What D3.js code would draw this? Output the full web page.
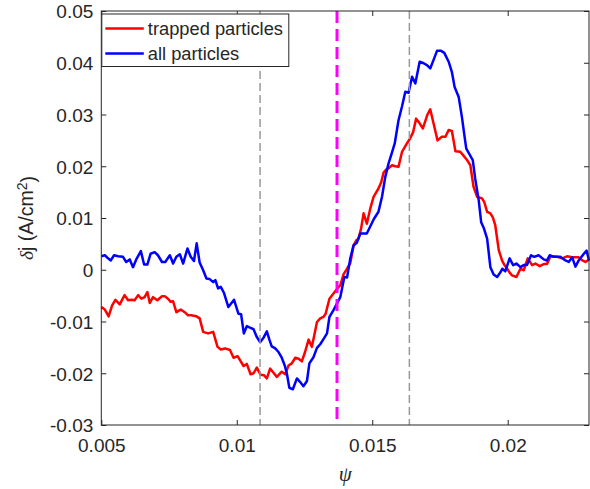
<!DOCTYPE html>
<html>
<head>
<meta charset="utf-8">
<script src="https://cdn.jsdelivr.net/npm/d3@7"></script>
<style>
  body { margin: 0; background: #fff; }
  text { font-family: "Liberation Sans", Arial, sans-serif; fill: #262626; }
</style>
</head>
<body>
<div id="chart"></div>
<script>
// data
var psiTrapped = [0.00500,0.00513,0.00527,0.00540,0.00552,0.00568,0.00586,0.00599,0.00611,0.00623,
  0.00636,0.00648,0.00660,0.00670,0.00679,0.00691,0.00707,0.00724,0.00734,0.00746,
  0.00756,0.00765,0.00777,0.00793,0.00808,0.00820,0.00832,0.00851,0.00863,0.00876,
  0.00894,0.00913,0.00929,0.00941,0.00957,0.00975,0.00988,0.01003,0.01025,0.01037,
  0.01051,0.01062,0.01074,0.01088,0.01101,0.01111,0.01123,0.01134,0.01148,0.01166,
  0.01179,0.01191,0.01203,0.01216,0.01228,0.01240,0.01252,0.01265,0.01277,0.01286,
  0.01296,0.01308,0.01320,0.01328,0.01342,0.01357,0.01370,0.01382,0.01394,0.01407,
  0.01419,0.01431,0.01441,0.01449,0.01459,0.01468,0.01480,0.01493,0.01505,0.01515,
  0.01523,0.01533,0.01542,0.01552,0.01560,0.01573,0.01585,0.01597,0.01610,0.01628,
  0.01640,0.01651,0.01662,0.01675,0.01687,0.01703,0.01714,0.01727,0.01741,0.01757,
  0.01770,0.01782,0.01794,0.01807,0.01825,0.01836,0.01850,0.01862,0.01874,0.01887,
  0.01905,0.01914,0.01924,0.01936,0.01945,0.01954,0.01967,0.01979,0.01988,0.01998,
  0.02008,0.02016,0.02032,0.02047,0.02059,0.02074,0.02090,0.02102,0.02118,0.02133,
  0.02145,0.02158,0.02182,0.02201,0.02219,0.02238,0.02262,0.02275,0.02287,0.02300];
var jTrapped = [-0.0072,-0.0077,-0.0090,-0.0069,-0.0058,-0.0067,-0.0049,-0.0059,-0.0058,-0.0059,
  -0.0049,-0.0056,-0.0053,-0.0043,-0.0064,-0.0053,-0.0059,-0.0051,-0.0051,-0.0056,
  -0.0062,-0.0061,-0.0082,-0.0077,-0.0082,-0.0088,-0.0088,-0.0090,-0.0094,-0.0120,
  -0.0123,-0.0120,-0.0149,-0.0154,-0.0152,-0.0155,-0.0170,-0.0167,-0.0186,-0.0182,
  -0.0202,-0.0200,-0.0189,-0.0203,-0.0204,-0.0210,-0.0191,-0.0198,-0.0207,-0.0197,
  -0.0202,-0.0185,-0.0181,-0.0170,-0.0172,-0.0177,-0.0159,-0.0135,-0.0149,-0.0127,
  -0.0101,-0.0094,-0.0091,-0.0085,-0.0056,-0.0046,-0.0037,-0.0030,-0.0009,0.0002,
  0.0013,0.0047,0.0057,0.0060,0.0080,0.0109,0.0089,0.0119,0.0141,0.0150,
  0.0157,0.0169,0.0188,0.0194,0.0196,0.0202,0.0200,0.0199,0.0228,0.0244,
  0.0254,0.0266,0.0292,0.0283,0.0273,0.0299,0.0310,0.0281,0.0250,0.0257,
  0.0257,0.0270,0.0268,0.0229,0.0228,0.0221,0.0212,0.0202,0.0160,0.0141,
  0.0138,0.0130,0.0112,0.0109,0.0101,0.0086,0.0038,0.0018,0.0009,0.0002,
  -0.0006,-0.0011,-0.0014,0.0002,-0.0001,0.0022,0.0009,0.0012,0.0007,0.0011,
  0.0011,0.0026,0.0025,0.0022,0.0026,0.0024,0.0024,0.0018,0.0015,0.0020];

var psiAll = [0.00500,0.00513,0.00525,0.00535,0.00547,0.00562,0.00580,0.00592,0.00605,0.00617,
  0.00629,0.00646,0.00658,0.00670,0.00682,0.00697,0.00709,0.00724,0.00736,0.00753,
  0.00765,0.00777,0.00790,0.00802,0.00818,0.00830,0.00842,0.00852,0.00863,0.00876,
  0.00888,0.00900,0.00913,0.00921,0.00931,0.00941,0.00953,0.00969,0.00990,0.01006,
  0.01016,0.01026,0.01037,0.01049,0.01062,0.01073,0.01086,0.01098,0.01111,0.01121,
  0.01129,0.01142,0.01154,0.01166,0.01177,0.01185,0.01194,0.01207,0.01222,0.01234,
  0.01246,0.01259,0.01268,0.01283,0.01296,0.01308,0.01320,0.01333,0.01342,0.01357,
  0.01370,0.01382,0.01397,0.01407,0.01419,0.01431,0.01443,0.01456,0.01468,0.01480,
  0.01493,0.01506,0.01523,0.01536,0.01548,0.01560,0.01573,0.01583,0.01597,0.01610,
  0.01622,0.01634,0.01647,0.01659,0.01675,0.01690,0.01703,0.01714,0.01726,0.01739,
  0.01754,0.01766,0.01782,0.01794,0.01804,0.01819,0.01831,0.01840,0.01847,0.01858,
  0.01871,0.01880,0.01893,0.01902,0.01912,0.01924,0.01936,0.01948,0.01961,0.01973,
  0.01980,0.01991,0.02007,0.02020,0.02032,0.02047,0.02059,0.02071,0.02086,0.02098,
  0.02114,0.02133,0.02145,0.02155,0.02170,0.02194,0.02213,0.02225,0.02238,0.02250,
  0.02262,0.02281,0.02291,0.02300];
var jAll = [0.0026,0.0028,0.0022,0.0018,0.0028,0.0026,0.0025,0.0015,0.0020,0.0005,
  0.0020,0.0036,0.0010,0.0010,0.0031,0.0034,0.0028,0.0015,0.0015,0.0028,
  0.0012,0.0025,0.0030,0.0012,0.0041,0.0025,0.0017,0.0051,0.0014,-0.0001,
  -0.0017,-0.0018,-0.0024,-0.0020,-0.0036,-0.0033,-0.0045,-0.0072,-0.0058,-0.0085,
  -0.0086,-0.0123,-0.0109,-0.0112,-0.0115,-0.0129,-0.0140,-0.0132,-0.0119,-0.0136,
  -0.0148,-0.0152,-0.0159,-0.0170,-0.0185,-0.0201,-0.0228,-0.0231,-0.0210,-0.0217,
  -0.0225,-0.0215,-0.0181,-0.0169,-0.0151,-0.0144,-0.0134,-0.0123,-0.0091,-0.0078,
  -0.0065,-0.0053,-0.0014,-0.0015,0.0022,0.0047,0.0052,0.0070,0.0070,0.0070,
  0.0084,0.0098,0.0112,0.0141,0.0179,0.0205,0.0227,0.0244,0.0289,0.0316,
  0.0344,0.0342,0.0373,0.0360,0.0402,0.0399,0.0395,0.0389,0.0405,0.0423,
  0.0423,0.0419,0.0402,0.0382,0.0353,0.0334,0.0295,0.0260,0.0234,0.0224,
  0.0212,0.0176,0.0134,0.0092,0.0080,0.0060,0.0005,-0.0009,-0.0014,-0.0005,
  0.0002,-0.0003,0.0022,0.0009,0.0012,0.0005,0.0009,0.0009,0.0028,0.0025,
  0.0028,0.0020,0.0018,0.0028,0.0025,0.0025,0.0018,0.0015,0.0024,0.0006,
  0.0018,0.0031,0.0037,0.0018];

var grayMarks = [0.01086, 0.01637];
var magentaMark = 0.0137;

var xTicks = [0.005, 0.01, 0.015, 0.02];
var xTickLabels = ["0.005", "0.01", "0.015", "0.02"];
var yTicks = [-0.03, -0.02, -0.01, 0, 0.01, 0.02, 0.03, 0.04, 0.05];
var yTickLabels = ["-0.03", "-0.02", "-0.01", "0", "0.01", "0.02", "0.03", "0.04", "0.05"];

var seriesNames = ["trapped particles", "all particles"];
var seriesColors = ["#ff0000", "#0000ff"];

// layout
var W = 590, H = 489;
var margin = {top: 11, right: 1, bottom: 64, left: 101.3};

var svg = d3.select("#chart").append("svg")
  .attr("width", W)
  .attr("height", H);

var x = d3.scaleLinear().domain([0.005, 0.023]).range([margin.left, W - margin.right]);
var y = d3.scaleLinear().domain([-0.03, 0.05]).range([H - margin.bottom, margin.top]);

var fs = 19;

// axes, matlab style ticks pointing in
var xb = svg.append("g")
  .attr("transform", "translate(0," + y(-0.03) + ")")
  .call(d3.axisBottom(x).tickValues(xTicks)
    .tickFormat(function(d, i) { return xTickLabels[i]; })
    .tickSizeInner(-5).tickSizeOuter(0).tickPadding(14));
var xt = svg.append("g")
  .attr("transform", "translate(0," + y(0.05) + ")")
  .call(d3.axisTop(x).tickValues(xTicks).tickFormat("")
    .tickSizeInner(-5).tickSizeOuter(0));
var yl = svg.append("g")
  .attr("transform", "translate(" + x(0.005) + ",0)")
  .call(d3.axisLeft(y).tickValues(yTicks)
    .tickFormat(function(d, i) { return yTickLabels[i]; })
    .tickSizeInner(-5).tickSizeOuter(0).tickPadding(8));
var yr = svg.append("g")
  .attr("transform", "translate(" + x(0.023) + ",0)")
  .call(d3.axisRight(y).tickValues(yTicks).tickFormat("")
    .tickSizeInner(-5).tickSizeOuter(0));

[xb, xt, yl, yr].forEach(function(g) {
  g.select(".domain").remove();
  g.selectAll(".tick line").attr("stroke", "#262626");
  g.selectAll(".tick text")
    .attr("fill", "#262626")
    .style("font-size", fs + "px")
    .style("font-family", '"Liberation Sans", Arial, sans-serif');
});
yl.selectAll(".tick text").attr("dy", "0.36em");

// curves
var line = d3.line()
  .x(function(d) { return x(d[0]); })
  .y(function(d) { return y(d[1]); });

var trapped = d3.zip(psiTrapped, jTrapped);
var all = d3.zip(psiAll, jAll);

svg.append("path")
  .datum(trapped)
  .attr("d", line)
  .attr("fill", "none")
  .attr("stroke", seriesColors[0])
  .attr("stroke-width", 2.5)
  .attr("stroke-linejoin", "round");

svg.append("path")
  .datum(all)
  .attr("d", line)
  .attr("fill", "none")
  .attr("stroke", seriesColors[1])
  .attr("stroke-width", 2.5)
  .attr("stroke-linejoin", "round");

// vertical marker lines
svg.selectAll(".gray-mark")
  .data(grayMarks)
  .enter().append("line")
  .attr("class", "gray-mark")
  .attr("x1", function(d) { return x(d); })
  .attr("x2", function(d) { return x(d); })
  .attr("y1", y(0.05))
  .attr("y2", y(-0.03))
  .attr("stroke", "#999999")
  .attr("stroke-width", 1.5)
  .attr("stroke-dasharray", "8,4");

svg.append("line")
  .attr("x1", x(magentaMark))
  .attr("x2", x(magentaMark))
  .attr("y1", y(0.05))
  .attr("y2", y(-0.03))
  .attr("stroke", "#ff00ff")
  .attr("stroke-width", 3)
  .attr("stroke-dasharray", "12,6");

// box
svg.append("rect")
  .attr("x", x(0.005))
  .attr("y", y(0.05))
  .attr("width", x(0.023) - x(0.005))
  .attr("height", y(-0.03) - y(0.05))
  .attr("fill", "none")
  .attr("stroke", "#262626")
  .attr("stroke-width", 1);

// legend
var leg = svg.append("g").attr("transform", "translate(" + (x(0.005) + 0.5) + "," + (y(0.05) + 3) + ")");
leg.append("rect")
  .attr("width", 187)
  .attr("height", 52.5)
  .attr("fill", "#fff")
  .attr("stroke", "#262626")
  .attr("stroke-width", 1);
leg.selectAll(".lg-line")
  .data(seriesNames)
  .enter().append("line")
  .attr("x1", 3.5)
  .attr("x2", 42)
  .attr("y1", function(d, i) { return 14.5 + i * 25; })
  .attr("y2", function(d, i) { return 14.5 + i * 25; })
  .attr("stroke", function(d, i) { return seriesColors[i]; })
  .attr("stroke-width", 2.5);
leg.selectAll(".lg-text")
  .data(seriesNames)
  .enter().append("text")
  .attr("x", 46)
  .attr("y", function(d, i) { return 20.5 + i * 25; })
  .style("font-size", "18.3px")
  .text(function(d) { return d; });

// axis labels
svg.append("text")
  .attr("x", (x(0.005) + x(0.023)) / 2)
  .attr("y", 481)
  .attr("text-anchor", "middle")
  .style("font-family", '"Liberation Serif", "DejaVu Serif", serif')
  .style("font-style", "italic")
  .style("font-size", "21px")
  .text("ψ");

var ylab = svg.append("text")
  .attr("transform", "translate(33," + ((y(0.05) + y(-0.03)) / 2) + ") rotate(-90)")
  .attr("text-anchor", "middle")
  .style("font-size", "19.5px");
ylab.append("tspan")
  .style("font-family", '"Liberation Serif", "DejaVu Serif", serif')
  .style("font-style", "italic")
  .text("δ");
ylab.append("tspan").text("j (A/cm");
ylab.append("tspan")
  .attr("dy", "-0.45em")
  .style("font-size", "14px")
  .text("2");
ylab.append("tspan")
  .attr("dy", "0.45em")
  .text(")");
</script>
</body>
</html>
